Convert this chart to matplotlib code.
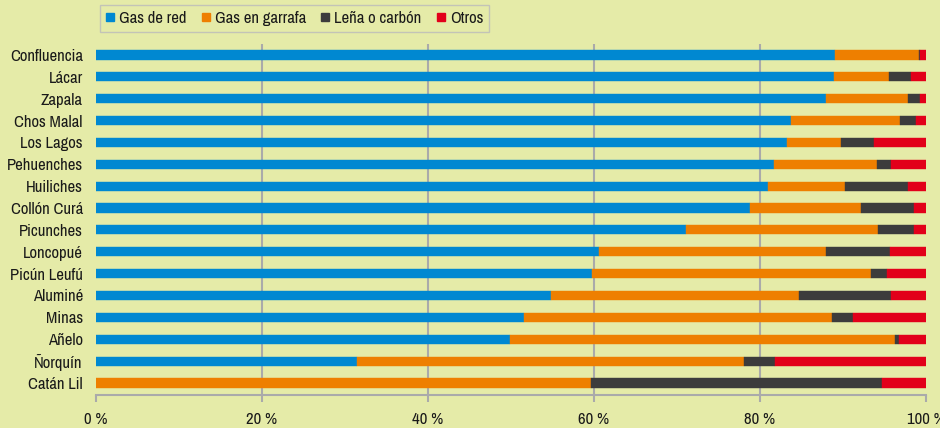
import matplotlib
matplotlib.use('Agg')
import matplotlib.pyplot as plt
from matplotlib.lines import Line2D
import numpy as np

plt.rcParams['font.family'] = ['Archivo Narrow', 'Liberation Sans', 'DejaVu Sans']

departamentos = ['Confluencia', 'Lácar', 'Zapala', 'Chos Malal', 'Los Lagos', 'Pehuenches',
                 'Huiliches', 'Collón Curá', 'Picunches', 'Loncopué', 'Picún Leufú',
                 'Aluminé', 'Minas', 'Añelo', 'Ñorquín', 'Catán Lil']
gas_red = [89.0, 88.9, 88.0, 83.7, 83.3, 81.7, 81.0, 78.8, 71.1, 60.6, 59.8, 54.8, 51.6, 49.9, 31.4, 0.0]
gas_garrafa = [10.1, 6.7, 9.8, 13.2, 6.5, 12.4, 9.2, 13.4, 23.1, 27.4, 33.6, 29.9, 37.1, 46.4, 46.7, 59.6]
lena_carbon = [0.2, 2.6, 1.5, 1.9, 3.9, 1.7, 7.6, 6.3, 4.4, 7.7, 1.9, 11.1, 2.5, 0.4, 3.7, 35.1]
otros = [0.7, 1.8, 0.7, 1.2, 6.3, 4.2, 2.2, 1.5, 1.4, 4.3, 4.7, 4.2, 8.8, 3.3, 18.2, 5.3]

series = [('Gas de red', gas_red, '#0088d1'),
          ('Gas en garrafa', gas_garrafa, '#ee7f00'),
          ('Leña o carbón', lena_carbon, '#3c3c3c'),
          ('Otros', otros, '#e2001a')]

bg = '#e5eba8'
fig = plt.figure(figsize=(9.4, 4.28), dpi=100, facecolor=bg)
ax = fig.add_axes([96/940, 1-395/428, 830/940, 351/428], facecolor=bg)

y = np.arange(len(departamentos))
left = np.zeros(len(departamentos))
for name, vals, col in series:
  vals = np.array(vals)
  ax.barh(y, vals, left=left, height=0.42, color=col, edgecolor=col, linewidth=0.3, zorder=3)
  left += vals

ax.set_xlim(0, 100)
ax.set_ylim(len(departamentos)-0.45, -0.5)
ax.set_xticks([0, 20, 40, 60, 80, 100])
ax.set_xticklabels(['0 %', '20 %', '40 %', '60 %', '80 %', '100 %'], fontsize=12, color='#1a1a1a')
ax.set_yticks(y)
ax.set_yticklabels(departamentos, fontsize=12, color='#1a1a1a')
ax.tick_params(axis='y', length=0, pad=9.5)
ax.tick_params(axis='x', length=5, color='#aaaaaa', width=1.5, pad=7)
for gx in [20, 40, 60, 80]:
  ax.axvline(gx, color='#aaaaaa', linewidth=1.5, zorder=1)
for s in ['top', 'right', 'left']:
  ax.spines[s].set_visible(False)
ax.spines['bottom'].set_color('#aaaaaa')
ax.spines['bottom'].set_linewidth(1.5)

handles = [Line2D([], [], marker='s', linestyle='none', markersize=6, color=col) for _, _, col in series]
leg = fig.legend(handles, [s[0] for s in series], loc='upper left', bbox_to_anchor=(100/940, 1-5/428),
                 ncol=4, fontsize=12, frameon=True, handlelength=0.5, handletextpad=0.3,
                 columnspacing=0.9, borderpad=0.35, borderaxespad=0, fancybox=False)
leg.get_frame().set_facecolor(bg)
leg.get_frame().set_edgecolor('#bbbbbb')
for t in leg.get_texts():
  t.set_color('#1a1a1a')

fig.savefig('out.png', dpi=100, facecolor=bg)
